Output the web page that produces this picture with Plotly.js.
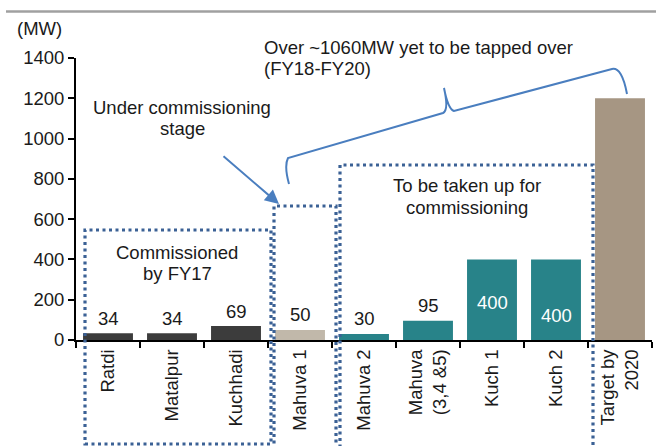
<!DOCTYPE html>
<html>
<head>
<meta charset="utf-8">
<script src="https://cdn.plot.ly/plotly-3.0.1.min.js"></script>
<style>html,body{margin:0;padding:0;background:#fff;}#chart{width:656px;height:446px;}</style>
</head>
<body>
<div id="chart"></div>
<script>
// ---- data ----
const categories = ["Ratdi", "Matalpur", "Kuchhadi", "Mahuva 1", "Mahuva 2", "Mahuva<br>(3,4 &5)", "Kuch 1", "Kuch 2", "Target by<br>2020"];
const capacityMW = [34, 34, 69, 50, 30, 95, 400, 400, 1200];
const valueLabels = ["34", "34", "69", "50", "30", "95", "400", "400", ""];
const yTickValues = [0, 200, 400, 600, 800, 1000, 1200, 1400];

// ---- styles ----
const FONT = "Liberation Sans, Arial, sans-serif";
const FS = 18.5;
const barColors = ["#3c3c3c", "#3c3c3c", "#3c3c3c", "#c1b8aa", "#288389", "#288389", "#288389", "#288389", "#a69683"];
const BOX = "#3b6195";
const BRACE = "#4a7ebf";

// plot area in pixels
const W = 656, H = 446, L = 76, R = 4, T = 58, B = 106;
const PW = W - L - R, PH = H - T - B;
const px = x => (x - L) / PW;
const py = y => (H - B - y) / PH;

const trace = {
  type: "bar",
  x: categories,
  y: capacityMW,
  marker: { color: barColors, line: { width: 0 } },
  hoverinfo: "skip"
};

const annotations = [];
// value labels (outside above bars for small ones, inside for large ones)
const insideFrac = { 6: 0.47, 7: 0.31 };
capacityMW.forEach((v, i) => {
  if (!valueLabels[i]) return;
  if (insideFrac[i] !== undefined) {
    annotations.push({ x: categories[i], y: v * insideFrac[i], xref: "x", yref: "y", text: valueLabels[i],
      showarrow: false, font: { family: FONT, size: FS, color: "#ffffff" }, yanchor: "middle" });
  } else {
    annotations.push({ x: categories[i], y: v, xref: "x", yref: "y", text: valueLabels[i],
      showarrow: false, font: { family: FONT, size: FS, color: "#1a1a1a" }, yanchor: "middle", yshift: 15 });
  }
});

function txt(t, x, y, anchor) {
  annotations.push({ xref: "paper", yref: "paper", x: px(x), y: py(y), text: t, showarrow: false,
    xanchor: anchor || "center", yanchor: "middle", font: { family: FONT, size: FS, color: "#1a1a1a" } });
}
txt("(MW)", 15, 29, "left");
txt("Over ~1060MW yet to be tapped over", 262, 47, "left");
txt("(FY18-FY20)", 262, 68, "left");
txt("Under commissioning", 182, 107);
txt("stage", 182, 128);
txt("Commissioned", 177, 252);
txt("by FY17", 177, 273);
txt("To be taken up for", 467, 185);
txt("commissioning", 467, 207);

// arrow
annotations.push({ xref: "paper", yref: "paper", x: px(279), y: py(204), ax: 222 - 279, ay: 155 - 204,
  axref: "pixel", ayref: "pixel", text: "", showarrow: true, arrowhead: 2, arrowsize: 1.4, arrowwidth: 2,
  arrowcolor: BRACE, standoff: 0 });

function P(x, y) { return px(x).toFixed(5) + "," + py(y).toFixed(5); }
const bracePath =
  "M" + P(289, 184) + " Q" + P(284, 166) + " " + P(288, 158) +
  " L" + P(443, 113) + " Q" + P(449, 110) + " " + P(444, 88) +
  " M" + P(444, 88) + " Q" + P(448, 109) + " " + P(454, 111) +
  " L" + P(612, 69) + " Q" + P(622, 67) + " " + P(627, 94);

const dotLine = { color: BOX, width: 3.2, dash: "3px,3.5px" };
function box(x0, y0, x1, y1) {
  return { type: "rect", xref: "paper", yref: "paper", x0: px(x0), x1: px(x1), y0: py(y1), y1: py(y0),
    line: dotLine, fillcolor: "rgba(0,0,0,0)", layer: "above" };
}

const shapes = [
  { type: "line", xref: "paper", yref: "paper", x0: px(6), x1: px(660), y0: py(11.5), y1: py(11.5),
    line: { color: "#a0a0a0", width: 2.5 } },
  box(85, 230, 271, 444),
  box(274, 206, 336, 452),
  box(340, 165, 593, 452),
  { type: "path", xref: "paper", yref: "paper", path: bracePath, line: { color: BRACE, width: 2 } }
];

const layout = {
  width: W, height: H,
  margin: { l: L, r: R, t: T, b: B, pad: 0 },
  paper_bgcolor: "#ffffff", plot_bgcolor: "#ffffff",
  showlegend: false,
  bargap: 0.22,
  font: { family: FONT, size: FS, color: "#1a1a1a" },
  xaxis: {
    type: "category", tickson: "boundaries", ticks: "outside", ticklen: 6, tickwidth: 2, tickcolor: "#000",
    showline: true, linecolor: "#000", linewidth: 2, showgrid: false, zeroline: false,
    tickangle: -90, tickfont: { family: FONT, size: FS, color: "#1a1a1a" }, fixedrange: true
  },
  yaxis: {
    range: [0, 1400], tickvals: yTickValues, ticktext: yTickValues.map(String),
    ticks: "outside", ticklen: 6, tickwidth: 2, tickcolor: "#000",
    showline: true, linecolor: "#000", linewidth: 2, showgrid: false, zeroline: false,
    tickfont: { family: FONT, size: FS, color: "#1a1a1a" }, fixedrange: true
  },
  annotations: annotations,
  shapes: shapes
};

Plotly.newPlot("chart", [trace], layout, { staticPlot: true, displayModeBar: false });
</script>
</body>
</html>
